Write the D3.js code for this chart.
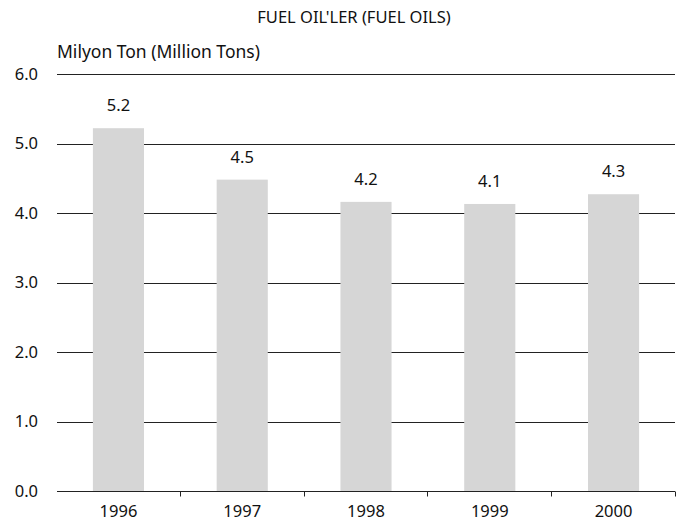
<!DOCTYPE html>
<html>
<head>
<meta charset="utf-8">
<script src="https://cdn.jsdelivr.net/npm/d3@7"></script>
<style>
  html, body { margin: 0; padding: 0; background: #fff; }
  svg text { font-family: "Noto Sans", "Open Sans", sans-serif; fill: #111; }
</style>
</head>
<body>
<div id="chart"></div>
<script>
(function () {
  "use strict";

  // data
  var years = ["1996", "1997", "1998", "1999", "2000"];
  var values = [5.22, 4.48, 4.16, 4.13, 4.27];
  var valueLabels = ["5.2", "4.5", "4.2", "4.1", "4.3"];
  var yTicks = [0, 1, 2, 3, 4, 5, 6];

  var W = 677, H = 531;
  var M = { t: 74, r: 2, b: 40, l: 57 };

  var svg = d3.select("#chart").append("svg")
    .attr("width", W).attr("height", H);

  var x = d3.scaleBand().domain(years)
    .range([M.l, W - M.r]).paddingInner(0.587).paddingOuter(0.29);
  var y = d3.scaleLinear().domain([0, 6]).range([H - M.b, M.t]);

  // title + unit label
  svg.append("text").attr("x", 354).attr("y", 23)
    .attr("text-anchor", "middle").style("font-size", "16.5px")
    .text("FUEL OIL'LER (FUEL OILS)");
  svg.append("text").attr("x", 57).attr("y", 58)
    .style("font-size", "17.5px").text("Milyon Ton (Million Tons)");

  // gridlines (1..6) — bars sit on top of them
  var grid = svg.append("g");
  grid.selectAll("line").data(yTicks.filter(function (d) { return d > 0; }))
    .enter().append("line")
    .attr("x1", M.l).attr("x2", W - M.r)
    .attr("y1", function (d) { return Math.round(y(d)) + 0.5; })
    .attr("y2", function (d) { return Math.round(y(d)) + 0.5; })
    .attr("stroke", "#222").attr("stroke-width", 1);

  // y tick labels
  svg.append("g").selectAll("text").data(yTicks).enter().append("text")
    .attr("x", 38).attr("y", function (d) { return y(d); })
    .attr("dy", "0.35em").attr("text-anchor", "end")
    .style("font-size", "16.5px")
    .text(function (d) { return d.toFixed(1); });

  // bars
  svg.append("g").selectAll("rect").data(values).enter().append("rect")
    .attr("x", function (d, i) { return x(years[i]); })
    .attr("width", x.bandwidth())
    .attr("y", function (d) { return y(d); })
    .attr("height", function (d) { return y(0) - y(d); })
    .attr("fill", "#d6d6d6");

  // value labels
  svg.append("g").selectAll("text").data(values).enter().append("text")
    .attr("x", function (d, i) { return x(years[i]) + x.bandwidth() / 2; })
    .attr("y", function (d) { return y(d) - 17; })
    .attr("text-anchor", "middle").style("font-size", "16.5px")
    .text(function (d, i) { return valueLabels[i]; });

  // x axis: baseline, ticks at category boundaries
  var ax = svg.append("g");
  var y0 = Math.round(y(0)) + 0.5;
  ax.append("line").attr("x1", M.l).attr("x2", W - M.r)
    .attr("y1", y0).attr("y2", y0).attr("stroke", "#222");
  var step = x.step();
  var bounds = years.map(function (d, i) { return M.l + step * (i + 1); });
  ax.selectAll("line.tick").data(bounds).enter().append("line")
    .attr("class", "tick")
    .attr("x1", function (d) { return Math.round(d) - 0.5; })
    .attr("x2", function (d) { return Math.round(d) - 0.5; })
    .attr("y1", y0).attr("y2", y0 + 5).attr("stroke", "#222");
  ax.selectAll("text").data(years).enter().append("text")
    .attr("x", function (d) { return x(d) + x.bandwidth() / 2; })
    .attr("y", 517).attr("text-anchor", "middle")
    .style("font-size", "16.5px")
    .text(function (d) { return d; });
})();
</script>
</body>
</html>
